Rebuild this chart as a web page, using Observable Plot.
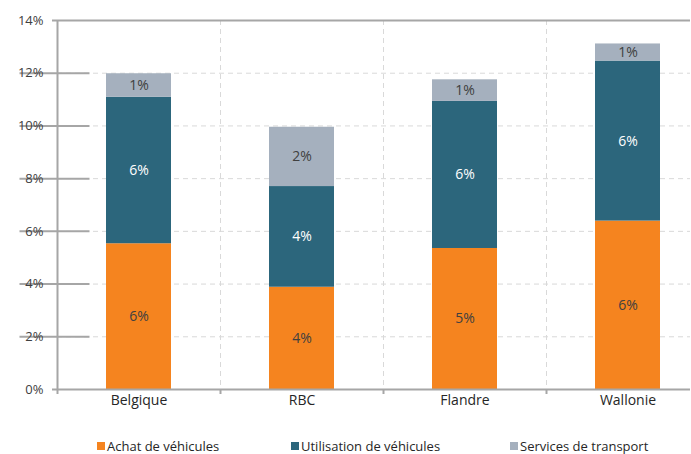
<!DOCTYPE html>
<html>
<head>
<meta charset="utf-8">
<script src="https://cdn.jsdelivr.net/npm/d3@7"></script>
<script src="https://cdn.jsdelivr.net/npm/@observablehq/plot@0.6"></script>
<style>
  html, body { margin: 0; padding: 0; background: #fff; }
  #wrap { position: relative; width: 691px; height: 454px; overflow: hidden; font-family: "Open Sans", sans-serif; }
  #chart svg { display: block; overflow: hidden; }
  #legend { position: absolute; left: 0; top: 438px; width: 691px; height: 16px; }
  .item { position: absolute; top: 0; display: flex; align-items: center; font-size: 13px; color: #262626; line-height: 16px; white-space: nowrap; }
  .sw { width: 8px; height: 8px; margin-right: 2px; }
</style>
</head>
<body>
<div id="wrap">
  <div id="chart"></div>
  <div id="legend"></div>
</div>
<script>
const categories = ["Belgique", "RBC", "Flandre", "Wallonie"];
const series = ["Achat de véhicules", "Utilisation de véhicules", "Services de transport"];
const achat = [5.53, 3.88, 5.35, 6.39];
const utilisation = [5.56, 3.82, 5.58, 6.07];
const services = [0.89, 2.25, 0.82, 0.65];
const colors = ["#F5841F", "#2C667C", "#A5B0BE"];
const yTicks = [0, 2, 4, 6, 8, 10, 12, 14];

const values = [achat, utilisation, services];
const data = [];
series.forEach((s, si) => {
  categories.forEach((c, ci) => {
    data.push({category: c, series: s, value: values[si][ci]});
  });
});

const step = 163;
const half = -step / 2;
const axisColor = "#A6A6A6";
const gridColor = "#D9D9D9";
const font = "Open Sans, sans-serif";

const stackOpts = {x: "category", y: "value", z: "series", order: series};
const label = d => Math.round(d.value) + "%";

const chart = Plot.plot({
  width: 691,
  height: 430,
  marginLeft: 57,
  marginRight: 1,
  marginTop: 20,
  marginBottom: 41,
  style: {fontFamily: font, background: "#fff"},
  x: {type: "band", domain: categories, range: [57, 709], paddingInner: 0.6, paddingOuter: 0.3, axis: null},
  y: {domain: [0, 14], axis: null},
  color: {domain: series, range: colors},
  marks: [
    Plot.ruleY(yTicks.slice(1, -1), {y: d => d, stroke: gridColor, strokeDasharray: "5,4", strokeWidth: 1}),
    Plot.ruleX(categories.slice(1), {x: d => d, dx: half, stroke: gridColor, strokeDasharray: "5,4", strokeWidth: 1}),
    Plot.barY(data, Plot.stackY({...stackOpts, fill: "series"})),
    Plot.text(data, Plot.filter(d => d.series !== series[1], Plot.stackY({
      ...stackOpts, text: label, fill: "#404040", fontSize: 14
    }))),
    Plot.text(data, Plot.filter(d => d.series === series[1], Plot.stackY({
      ...stackOpts, text: label, fill: "white", fontSize: 14
    }))),
    Plot.ruleX([categories[0]], {x: d => d, dx: half, stroke: axisColor, strokeWidth: 2}),
    Plot.ruleY([0, 14], {y: d => d, stroke: axisColor, strokeWidth: 2, insetLeft: -5}),
    Plot.ruleY(yTicks.slice(1, -1), {y: d => d, x1: () => categories[0], x2: () => categories[0], dx: half, insetLeft: -5, stroke: axisColor, strokeWidth: 2}),
    Plot.ruleX(categories, {x: d => d, dx: half, y1: () => 0, y2: () => 0, insetTop: 5, stroke: axisColor, strokeWidth: 2}),
    Plot.text(yTicks, {y: d => d, text: d => d + "%", frameAnchor: "left", textAnchor: "end", dx: -14, fill: "#404040", fontSize: 13}),
    Plot.text(categories, {x: d => d, text: d => d, frameAnchor: "bottom", dy: 15, fill: "#262626", fontSize: 14})
  ]
});
document.getElementById("chart").appendChild(chart);

const legendPos = [97, 291, 510];
const legend = document.getElementById("legend");
series.forEach((s, i) => {
  const item = document.createElement("div");
  item.className = "item";
  item.style.left = legendPos[i] + "px";
  const sw = document.createElement("span");
  sw.className = "sw";
  sw.style.background = colors[i];
  const t = document.createElement("span");
  t.textContent = s;
  item.appendChild(sw);
  item.appendChild(t);
  legend.appendChild(item);
});
</script>
</body>
</html>
